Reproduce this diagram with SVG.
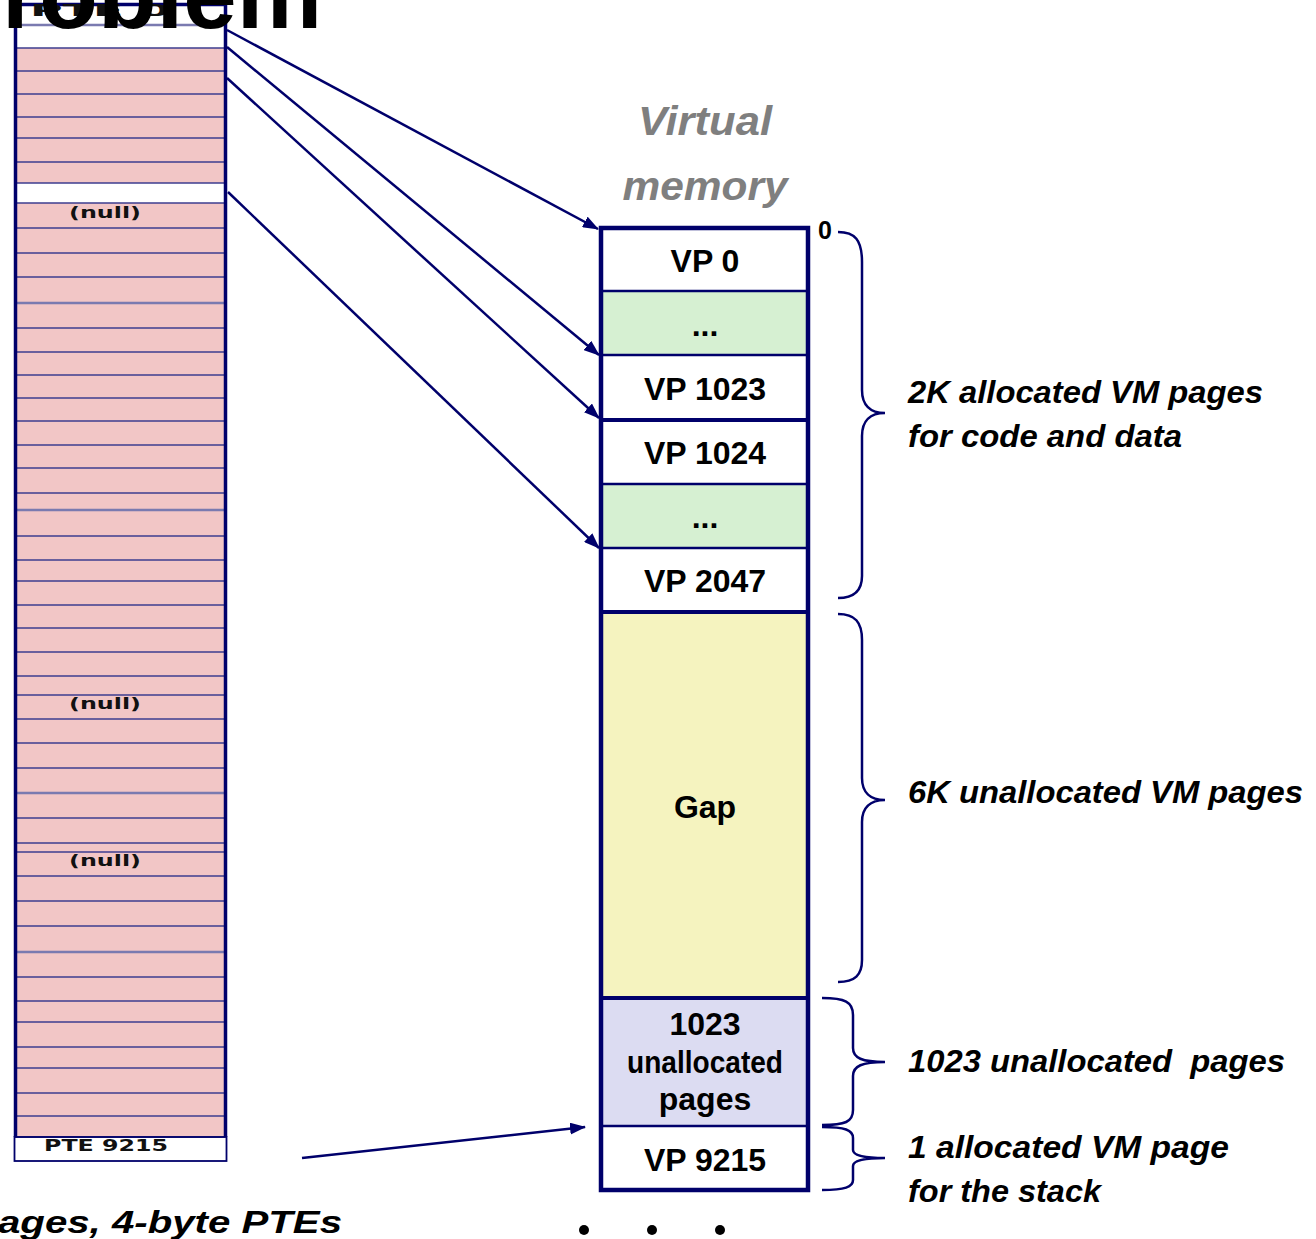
<svg xmlns="http://www.w3.org/2000/svg" width="1316" height="1239" viewBox="0 0 1316 1239">
<style>
.pink{fill:#f2c6c6}
.ln{stroke:#3c3c8f;stroke-width:1.5}
.lnl{stroke:#7a7ab0;stroke-width:2.5}
.nav{stroke:#00006b;fill:none}
.small{font-family:"DejaVu Sans",sans-serif;font-weight:bold;font-size:15px;fill:#111}
.vp{font-family:"Liberation Sans",Arial,sans-serif;font-weight:bold;font-size:32px;fill:#000;text-anchor:middle}
.lbl{font-family:"Liberation Sans",Arial,sans-serif;font-weight:bold;font-style:italic;font-size:31px;fill:#000}
.conn{stroke:#00006b;stroke-width:2.5;fill:none}
</style>
<defs>
<marker id="ah" markerWidth="16" markerHeight="12" refX="15" refY="6" orient="auto" markerUnits="userSpaceOnUse">
<path d="M0,0 L16,6 L0,12 Z" fill="#00006b"/>
</marker>
</defs>
<rect width="1316" height="1239" fill="#fff"/>

<g id="page-table">
<rect x="14" y="4" width="212" height="44" fill="#fff"/>
<rect x="14" y="48" width="212" height="135" class="pink"/>
<rect x="14" y="183" width="212" height="20" fill="#fff"/>
<rect x="14" y="203" width="212" height="934" class="pink"/>
<rect x="14" y="1137" width="212" height="24" fill="#fff"/>
<g>
<line x1="15" x2="225" y1="25" y2="25" class="lnl"/>
<line x1="15" x2="225" y1="48" y2="48" class="ln"/>
<line x1="15" x2="225" y1="71" y2="71" class="ln"/>
<line x1="15" x2="225" y1="94" y2="94" class="ln"/>
<line x1="15" x2="225" y1="117" y2="117" class="ln"/>
<line x1="15" x2="225" y1="138" y2="138" class="ln"/>
<line x1="15" x2="225" y1="162" y2="162" class="ln"/>
<line x1="15" x2="225" y1="183" y2="183" class="ln"/>
<line x1="15" x2="225" y1="203" y2="203" class="ln"/>
<line x1="15" x2="225" y1="228" y2="228" class="ln"/>
<line x1="15" x2="225" y1="253" y2="253" class="ln"/>
<line x1="15" x2="225" y1="277" y2="277" class="ln"/>
<line x1="15" x2="225" y1="303" y2="303" class="lnl"/>
<line x1="15" x2="225" y1="328" y2="328" class="ln"/>
<line x1="15" x2="225" y1="352" y2="352" class="ln"/>
<line x1="15" x2="225" y1="375" y2="375" class="ln"/>
<line x1="15" x2="225" y1="398" y2="398" class="ln"/>
<line x1="15" x2="225" y1="421" y2="421" class="ln"/>
<line x1="15" x2="225" y1="445" y2="445" class="ln"/>
<line x1="15" x2="225" y1="468" y2="468" class="ln"/>
<line x1="15" x2="225" y1="493" y2="493" class="ln"/>
<line x1="15" x2="225" y1="510" y2="510" class="lnl"/>
<line x1="15" x2="225" y1="536" y2="536" class="ln"/>
<line x1="15" x2="225" y1="560" y2="560" class="ln"/>
<line x1="15" x2="225" y1="581" y2="581" class="ln"/>
<line x1="15" x2="225" y1="605" y2="605" class="ln"/>
<line x1="15" x2="225" y1="628" y2="628" class="ln"/>
<line x1="15" x2="225" y1="652" y2="652" class="ln"/>
<line x1="15" x2="225" y1="676" y2="676" class="ln"/>
<line x1="15" x2="225" y1="695" y2="695" class="ln"/>
<line x1="15" x2="225" y1="719" y2="719" class="ln"/>
<line x1="15" x2="225" y1="743" y2="743" class="ln"/>
<line x1="15" x2="225" y1="768" y2="768" class="ln"/>
<line x1="15" x2="225" y1="793" y2="793" class="lnl"/>
<line x1="15" x2="225" y1="818" y2="818" class="ln"/>
<line x1="15" x2="225" y1="843" y2="843" class="ln"/>
<line x1="15" x2="225" y1="852" y2="852" class="ln"/>
<line x1="15" x2="225" y1="876" y2="876" class="ln"/>
<line x1="15" x2="225" y1="901" y2="901" class="ln"/>
<line x1="15" x2="225" y1="926" y2="926" class="ln"/>
<line x1="15" x2="225" y1="952" y2="952" class="lnl"/>
<line x1="15" x2="225" y1="977" y2="977" class="ln"/>
<line x1="15" x2="225" y1="1001" y2="1001" class="ln"/>
<line x1="15" x2="225" y1="1022" y2="1022" class="ln"/>
<line x1="15" x2="225" y1="1047" y2="1047" class="ln"/>
<line x1="15" x2="225" y1="1068" y2="1068" class="ln"/>
<line x1="15" x2="225" y1="1093" y2="1093" class="ln"/>
<line x1="15" x2="225" y1="1116" y2="1116" class="ln"/>
<line x1="15" x2="225" y1="1137" y2="1137" class="ln"/>
</g>
<path d="M15.5,1137 V4.5 H225.5 V1137" class="nav" stroke-width="3.5"/>
<rect x="14.5" y="1137" width="212" height="24" class="nav" stroke-width="1.8"/>
<text x="30" y="16" class="small" textLength="140" lengthAdjust="spacingAndGlyphs">PTE 0</text>
<text x="69" y="218" class="small" textLength="72" lengthAdjust="spacingAndGlyphs">(null)</text>
<text x="69" y="709" class="small" textLength="72" lengthAdjust="spacingAndGlyphs">(null)</text>
<text x="69" y="866" class="small" textLength="72" lengthAdjust="spacingAndGlyphs">(null)</text>
<text x="44" y="1151" class="small" textLength="124" lengthAdjust="spacingAndGlyphs">PTE 9215</text>
</g>

<g id="title">
<text x="322" y="28" text-anchor="end" font-family="'Liberation Sans',Arial,sans-serif" font-weight="bold" font-size="96" fill="#000">Problem</text>
</g>

<g id="vm-heading">
<text x="705" y="135" text-anchor="middle" font-family="'Liberation Sans',Arial,sans-serif" font-weight="bold" font-style="italic" font-size="40" fill="#7f7f7f" textLength="134" lengthAdjust="spacingAndGlyphs">Virtual</text>
<text x="705" y="200" text-anchor="middle" font-family="'Liberation Sans',Arial,sans-serif" font-weight="bold" font-style="italic" font-size="40" fill="#7f7f7f" textLength="165" lengthAdjust="spacingAndGlyphs">memory</text>
<text x="825" y="239" text-anchor="middle" font-family="'Liberation Sans',Arial,sans-serif" font-weight="bold" font-size="25" fill="#000">0</text>
</g>

<g id="virtual-memory">
<rect x="601" y="228" width="207" height="63" fill="#fff"/>
<rect x="601" y="291" width="207" height="64" fill="#d6f0d2"/>
<rect x="601" y="355" width="207" height="65" fill="#fff"/>
<rect x="601" y="420" width="207" height="64" fill="#fff"/>
<rect x="601" y="484" width="207" height="64" fill="#d6f0d2"/>
<rect x="601" y="548" width="207" height="64" fill="#fff"/>
<rect x="601" y="612" width="207" height="386" fill="#f5f3bf"/>
<rect x="601" y="998" width="207" height="128" fill="#dcdcf2"/>
<rect x="601" y="1126" width="207" height="64" fill="#fff"/>
<g class="nav">
<line x1="601" x2="808" y1="291" y2="291" stroke-width="2.5"/>
<line x1="601" x2="808" y1="355" y2="355" stroke-width="2.5"/>
<line x1="601" x2="808" y1="420" y2="420" stroke-width="4"/>
<line x1="601" x2="808" y1="484" y2="484" stroke-width="2.5"/>
<line x1="601" x2="808" y1="548" y2="548" stroke-width="2.5"/>
<line x1="601" x2="808" y1="612" y2="612" stroke-width="4"/>
<line x1="601" x2="808" y1="998" y2="998" stroke-width="4"/>
<line x1="601" x2="808" y1="1126" y2="1126" stroke-width="2.5"/>
<rect x="601" y="228" width="207" height="962" stroke-width="4.5"/>
</g>
<text x="705" y="272" class="vp">VP 0</text>
<text x="705" y="336" class="vp">...</text>
<text x="705" y="400" class="vp">VP 1023</text>
<text x="705" y="464" class="vp">VP 1024</text>
<text x="705" y="528" class="vp">...</text>
<text x="705" y="592" class="vp">VP 2047</text>
<text x="705" y="818" class="vp">Gap</text>
<text x="705" y="1035" class="vp" font-size="28">1023</text>
<text x="705" y="1073" class="vp" font-size="28" textLength="156" lengthAdjust="spacingAndGlyphs">unallocated</text>
<text x="705" y="1110" class="vp" font-size="28">pages</text>
<text x="705" y="1171" class="vp">VP 9215</text>
</g>

<g id="braces" class="nav" stroke-width="2.5">
<path d="M838,232 C855,232 862,240 862,262 L862,390 C862,405 870,413 885,413 C870,413 862,421 862,436 L862,576 C862,590 855,598 838,598"/>
<path d="M838,614 C855,614 862,622 862,640 L862,778 C862,792 870,800 885,800 C870,800 862,808 862,822 L862,960 C862,975 855,982 838,982"/>
<path d="M822,998 C845,998 853,1002 853,1015 L853,1048 C853,1058 862,1062 885,1062 C862,1062 853,1066 853,1076 L853,1110 C853,1122 845,1125 822,1125"/>
<path d="M822,1127 C845,1127 853,1130 853,1138 L853,1150 C853,1155 862,1158 885,1158 C862,1158 853,1161 853,1166 L853,1180 C853,1187 845,1190 822,1190"/>
</g>

<g id="labels">
<text x="908" y="403" class="lbl" textLength="355" lengthAdjust="spacingAndGlyphs">2K allocated VM pages</text>
<text x="908" y="447" class="lbl" textLength="274" lengthAdjust="spacingAndGlyphs">for code and data</text>
<text x="908" y="803" class="lbl" textLength="395" lengthAdjust="spacingAndGlyphs">6K unallocated VM pages</text>
<text x="908" y="1072" class="lbl" textLength="377" lengthAdjust="spacingAndGlyphs" xml:space="preserve">1023 unallocated  pages</text>
<text x="908" y="1158" class="lbl" textLength="321" lengthAdjust="spacingAndGlyphs">1 allocated VM page</text>
<text x="908" y="1202" class="lbl" textLength="193" lengthAdjust="spacingAndGlyphs">for the stack</text>
<text x="-2" y="1233" class="lbl" font-size="40" textLength="344" lengthAdjust="spacingAndGlyphs">ages, 4-byte PTEs</text>
</g>

<g id="dots" fill="#000">
<circle cx="584" cy="1230" r="5"/>
<circle cx="652" cy="1230" r="5"/>
<circle cx="720" cy="1230" r="5"/>
</g>

<g id="connectors" class="conn">
<line x1="227" y1="30" x2="598" y2="229" marker-end="url(#ah)"/>
<line x1="227" y1="47" x2="599" y2="355" marker-end="url(#ah)"/>
<line x1="227" y1="78" x2="599" y2="418" marker-end="url(#ah)"/>
<line x1="228" y1="192" x2="599" y2="548" marker-end="url(#ah)"/>
<line x1="302" y1="1158" x2="585" y2="1127" marker-end="url(#ah)"/>
</g>
</svg>
